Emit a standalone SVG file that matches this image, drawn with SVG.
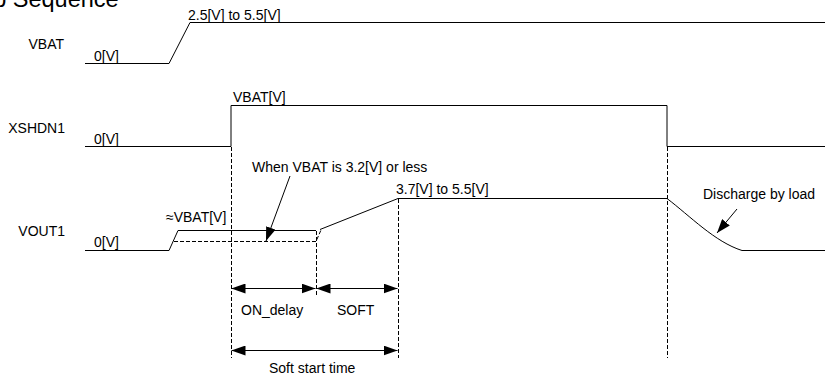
<svg xmlns="http://www.w3.org/2000/svg" width="825" height="379" viewBox="0 0 825 379">
<style>
text{font-family:"Liberation Sans",Arial,sans-serif;font-size:14px;fill:#000}
.title{font-size:23.5px}
.lbl{text-anchor:end}
.sig{fill:none;stroke:#000;stroke-width:1}
.dash{fill:none;stroke:#000;stroke-width:1;stroke-dasharray:4,2}
.arr{fill:none;stroke:#000;stroke-width:1;marker-end:url(#ah)}
.dim{fill:none;stroke:#000;stroke-width:1;marker-start:url(#ah);marker-end:url(#ah)}
</style>
<defs>
<marker id="ah" markerUnits="userSpaceOnUse" markerWidth="14" markerHeight="10" refX="14" refY="5" orient="auto-start-reverse" viewBox="0 0 14 10">
<path d="M0,0 L14,5 L0,10 z" fill="#000"/>
</marker>
</defs>
<rect width="825" height="379" fill="#fff"/>
<text class="title" x="-6.8" y="7">p Sequence</text>

<g id="vbat">
<text class="lbl" x="64" y="49">VBAT</text>
<text x="94" y="60.5">0[V]</text>
<text x="188" y="19.5">2.5[V] to 5.5[V]</text>
<path class="sig" d="M85,63.5 H169 L190,22.5 H825"/>
</g>

<g id="xshdn1">
<text class="lbl" x="65" y="132.5">XSHDN1</text>
<text x="94" y="144">0[V]</text>
<text x="233" y="101.5">VBAT[V]</text>
<path class="sig" d="M85,146.5 H231 V105.5 H667 V146.5 H825"/>
</g>

<g id="vout1">
<text class="lbl" x="65" y="235.5">VOUT1</text>
<text x="94" y="247">0[V]</text>
<text x="166" y="222">≈VBAT[V]</text>
<text x="396" y="193.5">3.7[V] to 5.5[V]</text>
<path class="sig" d="M85,250.5 H169 L178,230.5 H316 M320,229.5 L398,198.5 H667 C690,216 715,242 742,250.5 H825"/>
<path class="dash" d="M174,241.5 H316 L321,230"/>
</g>

<g id="annotations">
<text x="252" y="172">When VBAT is 3.2[V] or less</text>
<text x="703" y="199">Discharge by load</text>
<text x="241" y="315">ON_delay</text>
<text x="337" y="315">SOFT</text>
<text x="269" y="372.5">Soft start time</text>
</g>

<g id="connectors">
<path class="dash" d="M231.5,147 V358 M316.5,231 V296 M398.5,199 V358 M667.5,147 V358"/>
<path class="arr" d="M290,176 L266,241"/>
<path class="arr" d="M737,209 L717,233"/>
<path class="dim" d="M231.5,288.5 H315.5"/>
<path class="dim" d="M316.5,288.5 H397.5"/>
<path class="dim" d="M231.5,350.5 H397.5"/>
</g>
</svg>
